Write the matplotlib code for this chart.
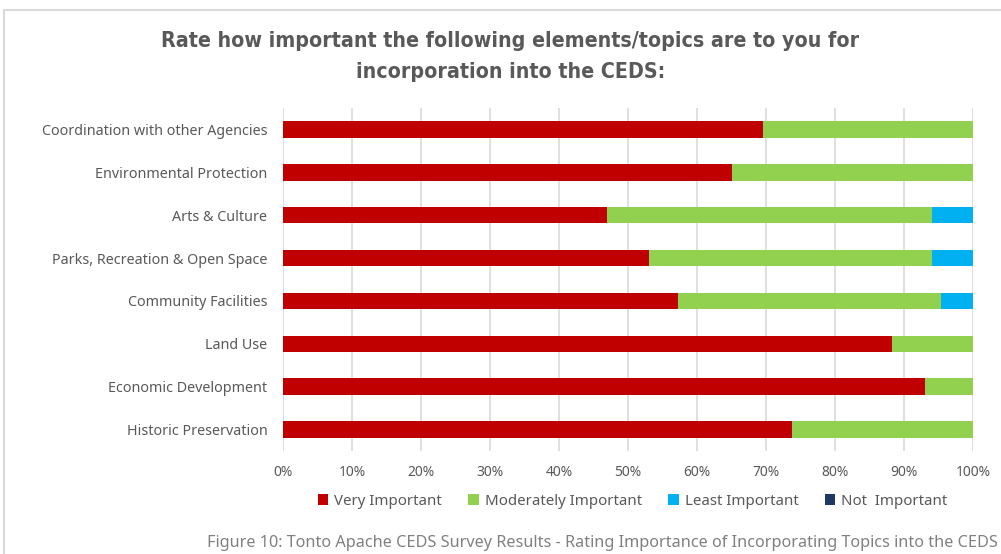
import matplotlib.pyplot as plt
from matplotlib.lines import Line2D
from matplotlib.ticker import PercentFormatter
import numpy as np

# rows listed top to bottom, as in the reference
categories = [
    "Coordination with other Agencies",
    "Environmental Protection",
    "Arts & Culture",
    "Parks, Recreation & Open Space",
    "Community Facilities",
    "Land Use",
    "Economic Development",
    "Historic Preservation",
]
very_important = [69.6, 65.0, 47.0, 53.0, 57.2, 88.3, 93.0, 73.8]
moderately_important = [30.4, 35.0, 47.1, 41.1, 38.1, 11.7, 7.0, 26.2]
least_important = [0.0, 0.0, 5.9, 5.9, 4.7, 0.0, 0.0, 0.0]
not_important = [0.0, 0.0, 0.0, 0.0, 0.0, 0.0, 0.0, 0.0]

series = [
    ("Very Important", very_important, "#C00000"),
    ("Moderately Important", moderately_important, "#92D050"),
    ("Least Important", least_important, "#00B0F0"),
    ("Not  Important", not_important, "#1F3864"),
]

GREY = "#595959"

fig = plt.figure(figsize=(10.01, 5.54), dpi=100)
ax = fig.add_axes([0.283, 0.186, 0.689, 0.619])

y = np.arange(len(categories))
left = np.zeros(len(categories))
for label, vals, col in series:
    vals = np.asarray(vals)
    ax.barh(y, vals, left=left, height=0.385, color=col, label=label, zorder=3)
    left += vals

ax.set_xlim(0, 100)
ax.set_ylim(len(categories) - 0.5, -0.5)
ax.set_xticks(np.arange(0, 101, 10))
ax.xaxis.set_major_formatter(PercentFormatter(decimals=0))
ax.set_yticks(y)
ax.set_yticklabels(categories, fontsize=10.3, color=GREY, family="Noto Sans")
for t in ax.get_xticklabels():
    t.set_fontsize(10)
    t.set_color(GREY)
    t.set_family("Noto Sans")
ax.tick_params(axis="both", length=0)
ax.tick_params(axis="x", pad=10)
ax.tick_params(axis="y", pad=11.5)
ax.grid(axis="x", color="#d9d9d9", linewidth=1.2, zorder=0)
for s in ax.spines.values():
    s.set_visible(False)

fig.text(0.51, 0.898, "Rate how important the following elements/topics are to you for\nincorporation into the CEDS:",
         ha="center", va="center", fontsize=15.3, fontweight="bold", color=GREY,
         family="DejaVu Sans", fontstretch="condensed", linespacing=1.72)

handles, labels = ax.get_legend_handles_labels()
fig.legend(handles, labels, loc="center", bbox_to_anchor=(0.632, 0.095), ncol=4,
           frameon=False, handlelength=0.7, handleheight=0.7, handletextpad=0.4,
           columnspacing=1.75, prop={"family": "Noto Sans", "size": 10.8},
           labelcolor=GREY)

fig.text(0.997, 0.02, "Figure 10: Tonto Apache CEDS Survey Results - Rating Importance of Incorporating Topics into the CEDS",
         ha="right", va="center", fontsize=11.7, color="#808080", family="Noto Sans")

# light frame around the chart area
fig.add_artist(Line2D([0.004, 0.004], [0.0, 0.982], color="#d9d9d9", linewidth=1.5))
fig.add_artist(Line2D([0.004, 1.0], [0.982, 0.982], color="#d9d9d9", linewidth=1.5))

fig.savefig("out.png", dpi=100)
